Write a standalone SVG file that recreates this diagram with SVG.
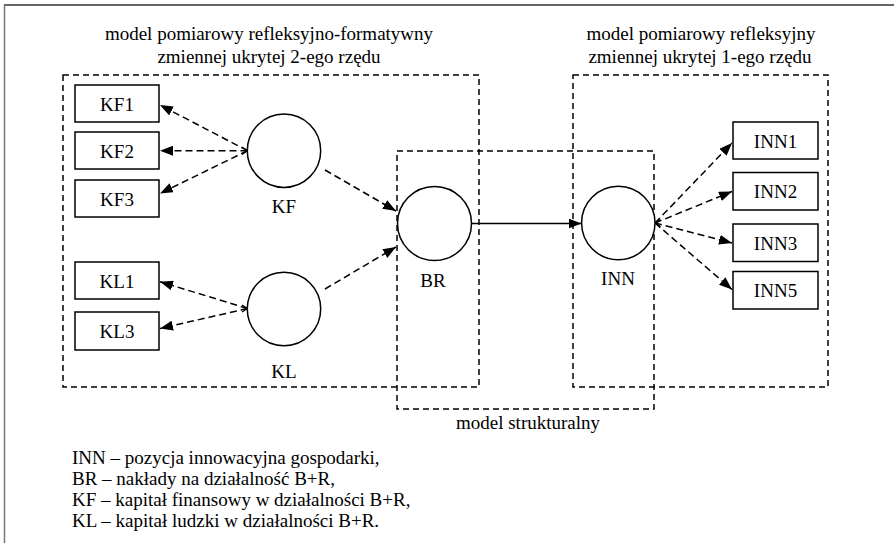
<svg xmlns="http://www.w3.org/2000/svg" width="894" height="543" viewBox="0 0 894 543">
<style>
text{font-family:"Liberation Serif","Times New Roman",serif;font-size:19px;fill:#000}
.c{text-anchor:middle}
.box{fill:#fff;stroke:#000;stroke-width:1.5}
.circ{fill:#fff;stroke:#000;stroke-width:1.5}
.grp{fill:none;stroke:#000;stroke-width:1.5;stroke-dasharray:6 4}
.dash{fill:none;stroke:#000;stroke-width:1.5;stroke-dasharray:7 4;marker-end:url(#ah)}
.solid{fill:none;stroke:#000;stroke-width:1.5;marker-end:url(#ah)}
.tail{fill:none;stroke:#000;stroke-width:1.2}
</style>
<defs>
<marker id="ah" markerUnits="userSpaceOnUse" markerWidth="13" markerHeight="10" refX="13" refY="5" orient="auto">
<path d="M0,0 L13,5 L0,10 z" fill="#000"/>
</marker>
</defs>
<rect width="894" height="543" fill="#fff"/>
<g id="frame">
<line x1="4" y1="5" x2="894" y2="5" stroke="#333" stroke-width="1.5"/>
<line x1="4.5" y1="5" x2="4.5" y2="543" stroke="#777" stroke-width="1.5"/>
</g>
<g id="groups">
<rect class="grp" x="63" y="75" width="416" height="312"/>
<rect class="grp" x="397" y="151" width="257" height="258"/>
<rect class="grp" x="573" y="75" width="255" height="312"/>
<text class="c" x="269" y="40">model pomiarowy refleksyjno-formatywny</text>
<text class="c" x="269" y="63">zmiennej ukrytej 2-ego rzędu</text>
<text class="c" x="701" y="40">model pomiarowy refleksyjny</text>
<text class="c" x="700" y="63">zmiennej ukrytej 1-ego rzędu</text>
<text class="c" x="528" y="429">model strukturalny</text>
</g>
<g id="connectors">
<line class="dash" x1="247.5" y1="150.7" x2="160" y2="105"/>
<line class="dash" x1="247.5" y1="150.7" x2="160" y2="150.7"/>
<line class="dash" x1="247.5" y1="150.7" x2="160" y2="193.5"/>
<polyline class="tail" points="242,147 247.5,150.7 242,154.5"/>
<line class="dash" x1="247.5" y1="308.5" x2="160" y2="281.7"/>
<line class="dash" x1="247.5" y1="308.5" x2="160" y2="328.5"/>
<polyline class="tail" points="242,305 247.5,308.5 242,312"/>
<line class="dash" x1="325" y1="170" x2="396" y2="211"/>
<line class="dash" x1="325" y1="289" x2="396" y2="247"/>
<line class="solid" x1="471.5" y1="223.5" x2="581.5" y2="223.5"/>
<line class="dash" x1="655" y1="223" x2="732" y2="143"/>
<line class="dash" x1="655" y1="223" x2="732" y2="191.5"/>
<line class="dash" x1="655" y1="223" x2="732" y2="243"/>
<line class="dash" x1="655" y1="223" x2="732" y2="289.5"/>
<polyline class="tail" points="660.5,219.5 655,223 660.5,226.5"/>
</g>
<g id="KF1"><rect class="box" x="75" y="85" width="84" height="37"/><text class="c" x="117" y="110.5">KF1</text></g>
<g id="KF2"><rect class="box" x="75" y="132" width="84" height="37"/><text class="c" x="117" y="157.5">KF2</text></g>
<g id="KF3"><rect class="box" x="75" y="180" width="84" height="37"/><text class="c" x="117" y="205.5">KF3</text></g>
<g id="KL1"><rect class="box" x="75" y="262" width="84" height="37"/><text class="c" x="117" y="287.5">KL1</text></g>
<g id="KL3"><rect class="box" x="75" y="312" width="84" height="38"/><text class="c" x="117" y="338">KL3</text></g>
<g id="KF"><circle class="circ" cx="284" cy="150.7" r="36.7"/><text class="c" x="284" y="213">KF</text></g>
<g id="KL"><circle class="circ" cx="284" cy="309" r="36.7"/><text class="c" x="284" y="378">KL</text></g>
<g id="BR"><circle class="circ" cx="434.5" cy="223.5" r="37"/><text class="c" x="433" y="287">BR</text></g>
<g id="INN"><circle class="circ" cx="618.3" cy="223" r="36.7"/><text class="c" x="618" y="285">INN</text></g>
<g id="INN1"><rect class="box" x="733" y="122" width="85" height="37"/><text class="c" x="775.5" y="147.5">INN1</text></g>
<g id="INN2"><rect class="box" x="733" y="172.5" width="85" height="37.5"/><text class="c" x="775.5" y="198">INN2</text></g>
<g id="INN3"><rect class="box" x="733" y="224" width="85" height="37.5"/><text class="c" x="775.5" y="249.5">INN3</text></g>
<g id="INN5"><rect class="box" x="733" y="271.5" width="85" height="37.5"/><text class="c" x="775.5" y="297">INN5</text></g>
<g id="legend">
<text x="72" y="464">INN – pozycja innowacyjna gospodarki,</text>
<text x="72" y="485">BR – nakłady na działalność B+R,</text>
<text x="72" y="506">KF – kapitał finansowy w działalności B+R,</text>
<text x="72" y="527">KL – kapitał ludzki w działalności B+R.</text>
</g>
</svg>
